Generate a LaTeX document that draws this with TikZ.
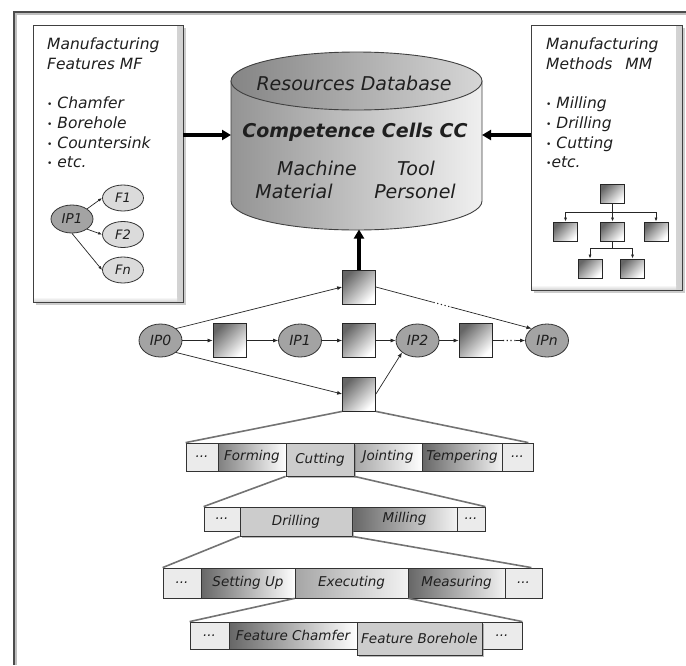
\documentclass[tikz,border=0pt]{standalone}
\usepackage{fontspec}
\setmainfont{DejaVu Sans}
\usetikzlibrary{arrows.meta,shadows,calc,shapes.geometric}
\colorlet{ink}{black!88}
\newcommand\mybul{\raisebox{1pt}{\fontsize{9}{9}\selectfont\upshape •}}
\tikzset{
  panel/.style={draw=black!75, line width=0.9pt, fill=white,
    drop shadow={shadow xshift=2.5pt,shadow yshift=-2.5pt,fill=black!40},
    path picture={
      \shade[left color=white,right color=black!18] ([xshift=-6pt]path picture bounding box.north east) rectangle (path picture bounding box.south east);
      \shade[top color=white,bottom color=black!18] ([yshift=5pt]path picture bounding box.south west) rectangle ([xshift=-6pt]path picture bounding box.south east);
    }},
  ptxt/.style={anchor=base west, inner sep=0pt, text=ink, font=\fontsize{15.5}{19.7}\selectfont\itshape},
  cyltxt/.style={anchor=base, inner sep=0pt, text=ink, font=\fontsize{19}{22}\selectfont\itshape},
  ipstyle/.style={ellipse, draw=black!80, line width=0.8pt, fill=black!36, inner sep=0pt,
    minimum width=43pt, minimum height=33pt, text=ink, font=\fontsize{14}{16}\selectfont\itshape},
  mfip/.style={ipstyle, minimum width=42pt, minimum height=28pt, font=\fontsize{13.5}{15}\selectfont\itshape},
  fnode/.style={ellipse, draw=black!80, line width=0.8pt, fill=black!14, inner sep=0pt,
    minimum width=41pt, minimum height=26pt, text=ink, font=\fontsize{13}{15}\selectfont\itshape},
  sqnode/.style={draw=black!85, line width=0.8pt, inner sep=0pt, minimum width=33pt, minimum height=34pt,
    top color=black!60, bottom color=white, shading angle=45},
  tnode/.style={sqnode, minimum width=24pt, minimum height=19pt},
  netarrow/.style={-{Latex[length=5pt,width=4pt]}, line width=0.7pt, draw=black!85},
  smallarrow/.style={-{Latex[length=4pt,width=3pt]}, line width=0.7pt, draw=black!85},
  bigarrow/.style={-{Triangle[length=9pt,width=10pt]}, line width=3.5pt, draw=black},
  cell/.style={draw=black!80, line width=0.8pt, inner sep=0pt, text=ink, font=\fontsize{13.5}{15}\selectfont\itshape},
  dotcell/.style={cell, fill=black!8},
  gradcell/.style={cell, left color=black!50, right color=white},
  raisedcell/.style={cell, fill=black!20, drop shadow={shadow xshift=2pt, shadow yshift=-2pt, fill=black!55}},
  zoomline/.style={draw=black!55, line width=1.6pt}
}
\begin{document}
\begin{tikzpicture}[x=1pt,y=-1pt]
\useasboundingbox (0,0) rectangle (686,665);
% outer frame
\draw[black!25, line width=1.5pt] (686,14) -- (16,14) -- (16,665);
\draw[black!70, line width=1.5pt] (686,12) -- (14,12) -- (14,665);

% panels
\node[panel, minimum width=150pt, minimum height=277pt] (mf) at (108,163.5) {};
\node[panel, minimum width=151pt, minimum height=265pt] (mm) at (606.5,157.5) {};

% MF text
\node[ptxt] (mf1) at (47,49) {Manufacturing};
\node[ptxt] (mf2) at (47,69) {Features MF};
\node[ptxt] (mf3) at (47,108.5) {\mybul\ Chamfer};
\node[ptxt] (mf4) at (47,128.3) {\mybul\ Borehole};
\node[ptxt] (mf5) at (47,148) {\mybul\ Countersink};
\node[ptxt] (mf6) at (47,167.7) {\mybul\ etc.};
% MM text
\node[ptxt] (mm1) at (546,49) {Manufacturing};
\node[ptxt] (mm2) at (546,69) {Methods\hspace{13pt}MM};
\node[ptxt] (mm3) at (546,108.5) {\mybul\ Milling};
\node[ptxt] (mm4) at (546,128.3) {\mybul\ Drilling};
\node[ptxt] (mm5) at (546,148) {\mybul\ Cutting};
\node[ptxt] (mm6) at (546,167.7) {\mybul etc.};

% MF small graph
\node[mfip] (mip) at (72,219) {IP1};
\node[fnode] (f1) at (123,198) {F1};
\node[fnode] (f2) at (123,234.5) {F2};
\node[fnode] (fn) at (123,270) {Fn};
\draw[smallarrow] (mip.north east) -- (f1.west);
\draw[smallarrow] (mip.south east) -- (f2.west);
\draw[smallarrow] (mip.south) -- (fn.west);

% MM tree
\node[tnode] (mt0) at (612.5,193.5) {};
\node[tnode] (mt1) at (565.5,231.5) {};
\node[tnode] (mt2) at (612.5,231.5) {};
\node[tnode] (mt3) at (656,231.5) {};
\node[tnode] (mt4) at (590,268.5) {};
\node[tnode] (mt5) at (632.5,268.5) {};
\coordinate (mtj) at ($(mt0.south)+(0,9)$);
\coordinate (mtk) at ($(mt2.south)+(0,7)$);
\draw[smallarrow] (mt0.south) -- (mt2.north);
\draw[smallarrow] (mtj) -| (mt1.north);
\draw[smallarrow] (mtj) -| (mt3.north);
\draw[line width=0.7pt, black!85] (mt2.south) -- (mtk);
\draw[smallarrow] (mtk) -| (mt4.north);
\draw[smallarrow] (mtk) -| (mt5.north);

% cylinder
\path[shade, left color=black!42, right color=black!6, draw=black!75, line width=0.9pt]
  (231,81) -- (231,201) arc[start angle=180, end angle=0, x radius=125.5, y radius=29] -- (482,81) -- cycle;
\path[shade, left color=black!48, right color=black!16, draw=black!75, line width=0.9pt]
  (356.5,81) ellipse[x radius=125.5, y radius=29];
\coordinate (dbL) at (231,135);
\coordinate (dbR) at (482,135);
\coordinate (dbB) at (359,229.5);
\node[cyltxt] (rdb) at (354,90) {Resources Database};
\node[cyltxt, font=\fontsize{19}{22}\selectfont\bfseries\itshape] (ccc) at (355,137) {Competence Cells CC};
\node[cyltxt] (mach) at (317,175) {Machine};
\node[cyltxt] (tool) at (416,175) {Tool};
\node[cyltxt] (matl) at (294,198) {Material};
\node[cyltxt] (pers) at (415,198) {Personel};

% big arrows
\draw[bigarrow] (mf.east |- dbL) -- (dbL);
\draw[bigarrow] (mm.west |- dbR) -- (dbR);

% network
\node[ipstyle] (ip0) at (160.5,340.5) {IP0};
\node[sqnode] (sq1) at (229.5,340.5) {};
\node[ipstyle] (ip1) at (300,340.5) {IP1};
\node[sqnode] (sq2) at (359,340.5) {};
\node[ipstyle] (ip2) at (417.5,340.5) {IP2};
\node[sqnode] (sq4) at (475.5,340.5) {};
\node[ipstyle] (ipn) at (547,340.5) {IPn};
\node[sqnode] (tsq) at (359,287) {};
\node[sqnode] (bsq) at (359,394) {};

\draw[bigarrow] (tsq.north) -- (tsq.north |- dbB);

\draw[netarrow] (ip0) -- (sq1);
\draw[netarrow] (sq1) -- (ip1);
\draw[netarrow] (ip1) -- (sq2);
\draw[netarrow] (sq2) -- (ip2);
\draw[netarrow] (ip2) -- (sq4);
\draw[line width=0.7pt, black!85] (sq4.east) -- ($(sq4.east)!0.32!(ipn.west)$) coordinate (gc);
\draw[line width=1.1pt, black!85, dash pattern=on 1.2pt off 2.6pt] (gc) -- ($(sq4.east)!0.7!(ipn.west)$) coordinate (gd);
\draw[netarrow] (gd) -- (ipn.west);
\draw[netarrow] (ip0.north east) -- (tsq.west);
\draw[netarrow] (ip0.south east) -- (bsq.west);
\draw[netarrow] (bsq.east) -- (ip2.south west);
\draw[line width=0.7pt, black!85] (tsq.east) -- ($(tsq.east)!0.37!(ipn.north west)$) coordinate (ga);
\draw[line width=1.1pt, black!85, dash pattern=on 1.2pt off 2.6pt] (ga) -- ($(tsq.east)!0.48!(ipn.north west)$) coordinate (gb);
\draw[netarrow] (gb) -- (ipn.north west);

% row 1
\node[dotcell, minimum width=32pt, minimum height=28pt] (d1a) at (202,457) {...};
\node[gradcell, minimum width=68pt, minimum height=28pt] (forming) at (252,457) {Forming};
\node[gradcell, left color=black!35, minimum width=68pt, minimum height=28pt] (jointing) at (388,457) {Jointing};
\node[gradcell, left color=black!60, right color=black!5, minimum width=80pt, minimum height=28pt] (tempering) at (462,457) {Tempering};
\node[dotcell, minimum width=31pt, minimum height=28pt] (d1b) at (517.5,457) {...};
\node[raisedcell, minimum width=68pt, minimum height=33pt] (cutting) at (320,459.5) {Cutting};

% row 2
\node[dotcell, minimum width=36pt, minimum height=24pt] (d2a) at (222,519) {...};
\node[gradcell, left color=black!60, right color=black!5, minimum width=105pt, minimum height=24pt] (milling) at (404.5,519) {Milling};
\node[dotcell, minimum width=28pt, minimum height=24pt] (d2b) at (471,519) {...};
\node[raisedcell, minimum width=112pt, minimum height=29pt] (drilling) at (296,521.5) {Drilling};

% row 3
\node[dotcell, minimum width=38pt, minimum height=30pt] (d3a) at (182,583) {...};
\node[gradcell, left color=black!60, minimum width=94pt, minimum height=30pt] (setting) at (248,583) {Setting Up};
\node[gradcell, left color=black!35, right color=black!5, minimum width=113pt, minimum height=30pt] (executing) at (351.5,583) {Executing};
\node[gradcell, left color=black!60, right color=black!5, minimum width=97pt, minimum height=30pt] (measuring) at (456.5,583) {Measuring};
\node[dotcell, minimum width=37pt, minimum height=30pt] (d3b) at (523.5,583) {...};

% row 4
\node[dotcell, minimum width=39pt, minimum height=27pt] (d4a) at (209.5,635.5) {...};
\node[gradcell, left color=black!60, minimum width=128pt, minimum height=27pt] (chamfer) at (293,635.5) {Feature Chamfer};
\node[dotcell, minimum width=40pt, minimum height=27pt] (d4b) at (502,635.5) {...};
\node[raisedcell, minimum width=125pt, minimum height=33pt] (borehole) at (419.5,638.5) {Feature Borehole};

% zoom lines
\draw[zoomline] (bsq.south west) -- (d1a.north west);
\draw[zoomline] (bsq.south east) -- ($(d1b.north east)+(-5,0)$);
\draw[zoomline] (cutting.south west) -- (d2a.north west);
\draw[zoomline] (cutting.south east) -- (d2b.north east);
\draw[zoomline] (drilling.south west) -- (d3a.north west);
\draw[zoomline] (drilling.south east) -- ($(d3b.north east)+(-11,0)$);
\draw[zoomline] (executing.south west) -- (d4a.north west);
\draw[zoomline] (executing.south east) -- (d4b.north east);
\end{tikzpicture}
\end{document}
